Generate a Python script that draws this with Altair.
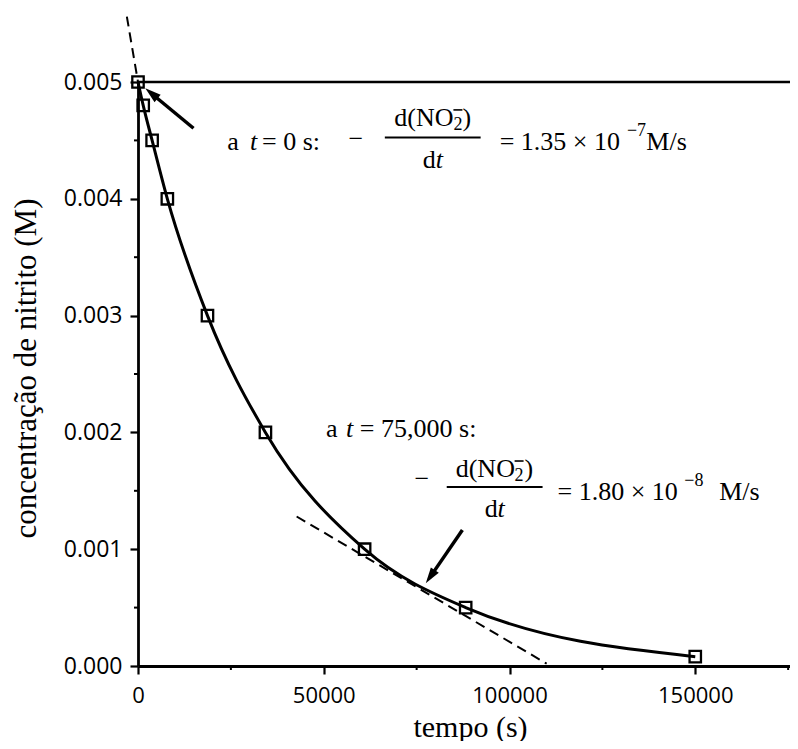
import altair as alt
import pandas as pd

# ---- measured data (time in s, nitrite concentration in M) ----
time_s = [0, 1400, 3800, 7900, 18700, 34300, 61000, 88200, 150000]
nitrite_M = [0.0050, 0.0048, 0.0045, 0.0040, 0.0030, 0.0020, 0.0010, 0.0005, 0.00008]

# ---- tangent lines (end points) ----
tan0_t = [-3000, 0]
tan0_c = [0.00556, 0.0050]
tan1_t = [42700, 110000]
tan1_c = [0.00128, 0.00002]

# ---- axis ticks ----
x_major = [0, 50000, 100000, 150000]
x_minor = [25000, 75000, 125000, 175000]
y_major = [0.0, 0.001, 0.002, 0.003, 0.004, 0.005]
y_minor = [0.0005, 0.0015, 0.0025, 0.0035, 0.0045]
X_MAX = 175500
Y_MAX = 0.005

# ---- arrows (tail, shaft end, tip) ----
arrow_tail_t = [14940, 87320]
arrow_tail_c = [0.004604, 0.001164]
arrow_end_t = [4030, 78990]
arrow_end_c = [0.004891, 0.000778]
arrow_tip_t = [1960, 77460]
arrow_tip_c = [0.004946, 0.000708]
arrow_angle = [309.6, 214.5]

# ---- annotation text (upright pieces) ----
up_label = ["a", "= 0 s:", "\u2212", "d(NO", "2", ")", "d", "=  1.35 \u00d7 10", "\u22127", "M/s",
            "a", "= 75,000 s:", "\u2212", "d(NO", "2", ")", "d", "=  1.80 \u00d7 10", "\u22128", "M/s"]
up_t = [23990, 33400, 56690, 68990, 84900, 87320, 76650, 97340, 131600, 136840,
        50590, 59720, 74420, 85520, 101370, 104060, 93310, 112920, 147040, 156450]
up_c = [0.004418, 0.004418, 0.004444, 0.004623, 0.004589, 0.004623, 0.004264, 0.004418, 0.004538, 0.004418,
        0.001961, 0.001961, 0.001533, 0.001618, 0.001584, 0.001618, 0.001276, 0.001421, 0.001541, 0.001421]
up_size = [26, 26, 26, 26, 18, 26, 26, 26, 18, 26,
           26, 26, 26, 26, 18, 26, 26, 26, 18, 26]

# ---- annotation text (italic t) ----
it_label = ["t", "t", "t", "t"]
it_t = [30170, 80140, 55960, 96800]
it_c = [0.004418, 0.004264, 0.001961, 0.001276]

# ---- fraction bars and the charge bar over NO2 ----
bar_t1 = [66440, 83100, 84900, 101370]
bar_t2 = [92230, 108900, 87320, 103790]
bar_c = [0.004525, 0.001533, 0.004761, 0.001755]
bar_w = [2.0, 2.0, 1.6, 1.6]

SERIF = "Liberation Serif"
SANS = "Open Sans"

xs = alt.Scale(domain=[0, X_MAX], nice=False, zero=False)
ys = alt.Scale(domain=[0, Y_MAX], nice=False, zero=False)

x_axis = alt.Axis(
    values=x_major, format="d", tickSize=8, tickWidth=2.2, domainWidth=2.8, grid=False,
    labelFont=SANS, labelFontSize=22, labelPadding=11, labelFlush=False, labelOverlap=False,
    title="tempo (s)", titleFont=SERIF, titleFontSize=30, titleFontWeight="normal",
    titleX=332, titleY=70, titleBaseline="alphabetic", titleAlign="center",
)
y_axis = alt.Axis(
    values=y_major, format=".3f", tickSize=8, tickWidth=2.2, domainWidth=2.8, grid=False,
    labelFont=SANS, labelFontSize=23, labelPadding=8, labelFlush=False, labelOverlap=False,
    title="concentra\u00e7\u00e3o de nitrito (M)", titleFont=SERIF, titleFontSize=31,
    titleFontWeight="normal", titleAngle=270, titleX=-103, titleY=286,
    titleBaseline="alphabetic", titleAlign="center",
)

df = pd.DataFrame({"t": time_s, "c": nitrite_M})
df_tan0 = pd.DataFrame({"t": tan0_t, "c": tan0_c})
df_tan1 = pd.DataFrame({"t": tan1_t, "c": tan1_c})
df_xminor = pd.DataFrame({"t": x_minor, "c": [0.0] * len(x_minor)})
df_yminor = pd.DataFrame({"t": [0] * len(y_minor), "c": y_minor})
df_top = pd.DataFrame({"t": [0, X_MAX], "c": [Y_MAX, Y_MAX]})
df_arrow = pd.DataFrame({"t": arrow_tail_t, "c": arrow_tail_c, "t2": arrow_end_t, "c2": arrow_end_c,
                         "tt": arrow_tip_t, "tc": arrow_tip_c, "ang": arrow_angle})
df_up = pd.DataFrame({"t": up_t, "c": up_c, "label": up_label, "size": up_size})
df_it = pd.DataFrame({"t": it_t, "c": it_c, "label": it_label})
df_bar = pd.DataFrame({"t": bar_t1, "t2": bar_t2, "c": bar_c, "w": bar_w})


def X(field="t"):
    return alt.X(f"{field}:Q", scale=xs, axis=x_axis)


def Y(field="c"):
    return alt.Y(f"{field}:Q", scale=ys, axis=y_axis)


curve = alt.Chart(df).mark_line(interpolate="monotone", color="black", strokeWidth=3).encode(
    x=X(), y=Y())

dash = dict(color="black", strokeWidth=2, strokeDash=[10, 6])
tangent0 = alt.Chart(df_tan0).mark_line(**dash).encode(x=X(), y=Y())
tangent1 = alt.Chart(df_tan1).mark_line(**dash).encode(x=X(), y=Y())

points = alt.Chart(df).mark_point(shape="square", filled=False, size=130, strokeWidth=2.3,
                                  color="black", opacity=1).encode(x=X(), y=Y())

top_line = alt.Chart(df_top).mark_line(color="black", strokeWidth=2.5).encode(x=X(), y=Y())

minor_x = alt.Chart(df_xminor).mark_tick(orient="vertical", size=4, thickness=2, yOffset=2,
                                         color="black", opacity=1).encode(x=X(), y=Y())
minor_y = alt.Chart(df_yminor).mark_tick(orient="horizontal", size=4, thickness=2, xOffset=-2,
                                         color="black", opacity=1).encode(x=X(), y=Y())

shafts = alt.Chart(df_arrow).mark_rule(color="black", strokeWidth=3.5).encode(
    x=X(), y=Y(), x2="t2:Q", y2="c2:Q")
heads = alt.Chart(df_arrow).mark_point(
    shape="M0,0 L1.2,4 L-1.2,4 Z", size=64, filled=True, color="black", opacity=1, strokeWidth=0
).encode(x=X("tt"), y=Y("tc"), angle=alt.Angle("ang:Q", scale=None))

bars = alt.Chart(df_bar).mark_rule(color="black").encode(
    x=X(), x2="t2:Q", y=Y(), strokeWidth=alt.StrokeWidth("w:Q", scale=None, legend=None))

texts = alt.Chart(df_up).mark_text(align="left", baseline="alphabetic", font=SERIF, color="black").encode(
    x=X(), y=Y(), text="label:N", size=alt.Size("size:Q", scale=None, legend=None))
italics = alt.Chart(df_it).mark_text(align="left", baseline="alphabetic", font=SERIF, fontSize=26,
                                     fontStyle="italic", color="black").encode(
    x=X(), y=Y(), text="label:N")

chart = alt.layer(curve, tangent0, tangent1, points, top_line, minor_x, minor_y,
                  shafts, heads, bars, texts, italics).properties(
    width=652, height=584,
    autosize=alt.AutoSizeParams(type="none"),
    padding={"left": 130, "top": 74, "right": 0, "bottom": 75},
    background="white",
).configure_view(strokeWidth=0).configure_axis(
    domainColor="black", tickColor="black", labelColor="black", titleColor="black",
    domainWidth=2.8, tickWidth=2.2)

chart.save("out.html", embed_options={"renderer": "svg", "actions": False})
